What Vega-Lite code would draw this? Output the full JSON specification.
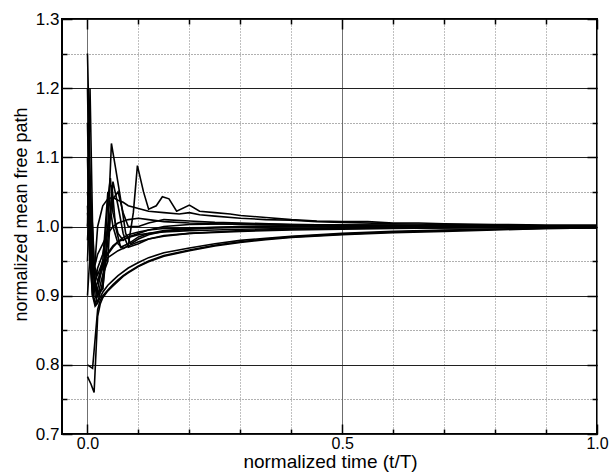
{
"$schema":"https://vega.github.io/schema/vega-lite/v6.json",
"width":535,"height":415,
"autosize":{"type":"none"},
"padding":{"left":62,"top":19,"right":13,"bottom":38},
"config":{"view":{"stroke":"black","strokeWidth":2},
"axis":{"labelFont":"Liberation Sans","titleFont":"Liberation Sans","titleFontWeight":"normal","labelColor":"black","titleColor":"black","domain":false,"tickColor":"black","tickWidth":1.5,"labelFlush":false,"labelOverlap":false,"labelBound":false}},
"data":{"values":[
{"s":"a","t":0,"v":1.25},{"s":"a","t":0.004,"v":1.12},{"s":"a","t":0.008,"v":0.98},{"s":"a","t":0.012,"v":0.9},{"s":"a","t":0.016,"v":0.885},{"s":"a","t":0.02,"v":0.91},{"s":"a","t":0.03,"v":0.945},{"s":"a","t":0.04,"v":0.962},{"s":"a","t":0.05,"v":0.972},{"s":"a","t":0.06,"v":0.978},{"s":"a","t":0.08,"v":0.984},{"s":"a","t":0.1,"v":0.988},{"s":"a","t":0.12,"v":0.99},{"s":"a","t":0.15,"v":0.992},{"s":"a","t":0.2,"v":0.994},{"s":"a","t":0.25,"v":0.995},{"s":"a","t":0.3,"v":0.996},{"s":"a","t":0.4,"v":0.997},{"s":"a","t":0.5,"v":0.998},{"s":"a","t":0.6,"v":0.998},{"s":"a","t":0.7,"v":0.999},{"s":"a","t":0.8,"v":0.999},{"s":"a","t":0.9,"v":1.0},{"s":"a","t":1.0,"v":1.0},
{"s":"b","t":0,"v":0.8},{"s":"b","t":0.01,"v":0.795},{"s":"b","t":0.02,"v":0.88},{"s":"b","t":0.025,"v":0.893},{"s":"b","t":0.03,"v":0.9},{"s":"b","t":0.04,"v":0.908},{"s":"b","t":0.05,"v":0.916},{"s":"b","t":0.06,"v":0.923},{"s":"b","t":0.07,"v":0.929},{"s":"b","t":0.08,"v":0.934},{"s":"b","t":0.1,"v":0.943},{"s":"b","t":0.12,"v":0.95},{"s":"b","t":0.15,"v":0.958},{"s":"b","t":0.2,"v":0.966},{"s":"b","t":0.25,"v":0.973},{"s":"b","t":0.3,"v":0.978},{"s":"b","t":0.35,"v":0.982},{"s":"b","t":0.4,"v":0.985},{"s":"b","t":0.5,"v":0.989},{"s":"b","t":0.6,"v":0.992},{"s":"b","t":0.7,"v":0.994},{"s":"b","t":0.8,"v":0.996},{"s":"b","t":0.9,"v":0.997},{"s":"b","t":1.0,"v":0.998},
{"s":"c","t":0,"v":0.783},{"s":"c","t":0.007,"v":0.772},{"s":"c","t":0.013,"v":0.76},{"s":"c","t":0.02,"v":0.87},{"s":"c","t":0.025,"v":0.888},{"s":"c","t":0.03,"v":0.897},{"s":"c","t":0.04,"v":0.907},{"s":"c","t":0.05,"v":0.914},{"s":"c","t":0.06,"v":0.921},{"s":"c","t":0.07,"v":0.928},{"s":"c","t":0.08,"v":0.933},{"s":"c","t":0.1,"v":0.942},{"s":"c","t":0.12,"v":0.949},{"s":"c","t":0.15,"v":0.957},{"s":"c","t":0.2,"v":0.965},{"s":"c","t":0.25,"v":0.972},{"s":"c","t":0.3,"v":0.977},{"s":"c","t":0.35,"v":0.981},{"s":"c","t":0.4,"v":0.984},{"s":"c","t":0.5,"v":0.988},{"s":"c","t":0.6,"v":0.991},{"s":"c","t":0.7,"v":0.993},{"s":"c","t":0.8,"v":0.995},{"s":"c","t":0.9,"v":0.997},{"s":"c","t":1.0,"v":0.998},
{"s":"d","t":0,"v":0.9},{"s":"d","t":0.005,"v":0.96},{"s":"d","t":0.01,"v":0.9},{"s":"d","t":0.015,"v":0.885},{"s":"d","t":0.02,"v":0.89},{"s":"d","t":0.03,"v":0.905},{"s":"d","t":0.04,"v":0.915},{"s":"d","t":0.05,"v":0.922},{"s":"d","t":0.06,"v":0.929},{"s":"d","t":0.08,"v":0.94},{"s":"d","t":0.1,"v":0.948},{"s":"d","t":0.12,"v":0.955},{"s":"d","t":0.15,"v":0.962},{"s":"d","t":0.2,"v":0.969},{"s":"d","t":0.25,"v":0.975},{"s":"d","t":0.3,"v":0.98},{"s":"d","t":0.35,"v":0.983},{"s":"d","t":0.4,"v":0.986},{"s":"d","t":0.5,"v":0.99},{"s":"d","t":0.6,"v":0.993},{"s":"d","t":0.7,"v":0.995},{"s":"d","t":0.8,"v":0.996},{"s":"d","t":0.9,"v":0.998},{"s":"d","t":1.0,"v":0.999},
{"s":"e","t":0,"v":1.0},{"s":"e","t":0.006,"v":1.05},{"s":"e","t":0.012,"v":0.93},{"s":"e","t":0.02,"v":0.905},{"s":"e","t":0.03,"v":0.91},{"s":"e","t":0.04,"v":1.0},{"s":"e","t":0.047,"v":1.12},{"s":"e","t":0.055,"v":1.085},{"s":"e","t":0.065,"v":1.04},{"s":"e","t":0.075,"v":0.99},{"s":"e","t":0.085,"v":0.975},{"s":"e","t":0.1,"v":0.982},{"s":"e","t":0.12,"v":0.988},{"s":"e","t":0.15,"v":0.993},{"s":"e","t":0.2,"v":0.996},{"s":"e","t":0.25,"v":0.998},{"s":"e","t":0.3,"v":0.999},{"s":"e","t":0.4,"v":1.0},{"s":"e","t":0.5,"v":1.001},{"s":"e","t":0.6,"v":1.0},{"s":"e","t":0.7,"v":1.001},{"s":"e","t":0.8,"v":1.0},{"s":"e","t":0.9,"v":1.0},{"s":"e","t":1.0,"v":1.001},
{"s":"f","t":0,"v":1.2},{"s":"f","t":0.005,"v":1.0},{"s":"f","t":0.01,"v":0.9},{"s":"f","t":0.02,"v":0.92},{"s":"f","t":0.03,"v":0.95},{"s":"f","t":0.04,"v":1.05},{"s":"f","t":0.05,"v":1.0},{"s":"f","t":0.06,"v":0.975},{"s":"f","t":0.07,"v":0.968},{"s":"f","t":0.08,"v":0.972},{"s":"f","t":0.09,"v":1.02},{"s":"f","t":0.098,"v":1.088},{"s":"f","t":0.11,"v":1.05},{"s":"f","t":0.12,"v":1.025},{"s":"f","t":0.135,"v":1.03},{"s":"f","t":0.147,"v":1.043},{"s":"f","t":0.16,"v":1.04},{"s":"f","t":0.175,"v":1.022},{"s":"f","t":0.2,"v":1.031},{"s":"f","t":0.22,"v":1.022},{"s":"f","t":0.25,"v":1.02},{"s":"f","t":0.28,"v":1.018},{"s":"f","t":0.3,"v":1.016},{"s":"f","t":0.35,"v":1.013},{"s":"f","t":0.4,"v":1.01},{"s":"f","t":0.45,"v":1.008},{"s":"f","t":0.5,"v":1.007},{"s":"f","t":0.55,"v":1.007},{"s":"f","t":0.6,"v":1.005},{"s":"f","t":0.65,"v":1.005},{"s":"f","t":0.7,"v":1.004},{"s":"f","t":0.8,"v":1.003},{"s":"f","t":0.9,"v":1.002},{"s":"f","t":1.0,"v":1.002},
{"s":"g","t":0,"v":1.03},{"s":"g","t":0.005,"v":0.95},{"s":"g","t":0.01,"v":0.92},{"s":"g","t":0.015,"v":0.95},{"s":"g","t":0.02,"v":1.0},{"s":"g","t":0.03,"v":1.03},{"s":"g","t":0.04,"v":1.04},{"s":"g","t":0.05,"v":1.042},{"s":"g","t":0.06,"v":1.038},{"s":"g","t":0.07,"v":1.035},{"s":"g","t":0.08,"v":1.03},{"s":"g","t":0.1,"v":1.026},{"s":"g","t":0.12,"v":1.022},{"s":"g","t":0.15,"v":1.02},{"s":"g","t":0.18,"v":1.018},{"s":"g","t":0.2,"v":1.02},{"s":"g","t":0.22,"v":1.017},{"s":"g","t":0.25,"v":1.015},{"s":"g","t":0.3,"v":1.012},{"s":"g","t":0.35,"v":1.01},{"s":"g","t":0.4,"v":1.009},{"s":"g","t":0.45,"v":1.007},{"s":"g","t":0.5,"v":1.006},{"s":"g","t":0.6,"v":1.004},{"s":"g","t":0.7,"v":1.003},{"s":"g","t":0.8,"v":1.002},{"s":"g","t":0.9,"v":1.001},{"s":"g","t":1.0,"v":1.001},
{"s":"h","t":0,"v":1.05},{"s":"h","t":0.005,"v":1.0},{"s":"h","t":0.01,"v":0.92},{"s":"h","t":0.02,"v":0.9},{"s":"h","t":0.03,"v":0.93},{"s":"h","t":0.04,"v":0.95},{"s":"h","t":0.048,"v":1.06},{"s":"h","t":0.055,"v":1.0},{"s":"h","t":0.065,"v":0.97},{"s":"h","t":0.08,"v":0.975},{"s":"h","t":0.1,"v":0.985},{"s":"h","t":0.12,"v":0.99},{"s":"h","t":0.15,"v":0.994},{"s":"h","t":0.2,"v":0.997},{"s":"h","t":0.25,"v":0.999},{"s":"h","t":0.3,"v":1.0},{"s":"h","t":0.4,"v":1.001},{"s":"h","t":0.5,"v":1.0},{"s":"h","t":0.6,"v":1.001},{"s":"h","t":0.7,"v":1.0},{"s":"h","t":0.8,"v":1.0},{"s":"h","t":0.9,"v":0.999},{"s":"h","t":1.0,"v":1.0},
{"s":"i","t":0,"v":0.95},{"s":"i","t":0.005,"v":1.05},{"s":"i","t":0.01,"v":1.0},{"s":"i","t":0.015,"v":0.92},{"s":"i","t":0.02,"v":0.9},{"s":"i","t":0.03,"v":0.91},{"s":"i","t":0.04,"v":0.98},{"s":"i","t":0.05,"v":1.065},{"s":"i","t":0.06,"v":1.03},{"s":"i","t":0.07,"v":0.99},{"s":"i","t":0.08,"v":0.97},{"s":"i","t":0.1,"v":0.975},{"s":"i","t":0.12,"v":0.982},{"s":"i","t":0.15,"v":0.987},{"s":"i","t":0.2,"v":0.99},{"s":"i","t":0.25,"v":0.992},{"s":"i","t":0.3,"v":0.994},{"s":"i","t":0.4,"v":0.996},{"s":"i","t":0.5,"v":0.997},{"s":"i","t":0.6,"v":0.998},{"s":"i","t":0.7,"v":0.998},{"s":"i","t":0.8,"v":0.999},{"s":"i","t":0.9,"v":0.999},{"s":"i","t":1.0,"v":0.999},
{"s":"j","t":0,"v":1.1},{"s":"j","t":0.005,"v":0.95},{"s":"j","t":0.01,"v":0.9},{"s":"j","t":0.02,"v":0.94},{"s":"j","t":0.03,"v":0.96},{"s":"j","t":0.04,"v":1.0},{"s":"j","t":0.05,"v":1.04},{"s":"j","t":0.06,"v":1.05},{"s":"j","t":0.07,"v":1.02},{"s":"j","t":0.08,"v":1.0},{"s":"j","t":0.1,"v":1.0},{"s":"j","t":0.12,"v":1.005},{"s":"j","t":0.15,"v":1.01},{"s":"j","t":0.2,"v":1.008},{"s":"j","t":0.25,"v":1.006},{"s":"j","t":0.3,"v":1.005},{"s":"j","t":0.4,"v":1.003},{"s":"j","t":0.5,"v":1.002},{"s":"j","t":0.6,"v":1.002},{"s":"j","t":0.7,"v":1.001},{"s":"j","t":0.8,"v":1.001},{"s":"j","t":0.9,"v":1.0},{"s":"j","t":1.0,"v":1.0},
{"s":"k","t":0,"v":1.02},{"s":"k","t":0.005,"v":0.98},{"s":"k","t":0.01,"v":0.95},{"s":"k","t":0.02,"v":0.93},{"s":"k","t":0.03,"v":0.95},{"s":"k","t":0.04,"v":0.96},{"s":"k","t":0.05,"v":0.97},{"s":"k","t":0.06,"v":0.978},{"s":"k","t":0.07,"v":0.984},{"s":"k","t":0.08,"v":0.988},{"s":"k","t":0.1,"v":0.992},{"s":"k","t":0.12,"v":0.995},{"s":"k","t":0.15,"v":0.997},{"s":"k","t":0.2,"v":0.998},{"s":"k","t":0.3,"v":0.999},{"s":"k","t":0.4,"v":1.0},{"s":"k","t":0.5,"v":1.0},{"s":"k","t":0.6,"v":1.0},{"s":"k","t":0.7,"v":1.0},{"s":"k","t":0.8,"v":1.001},{"s":"k","t":0.9,"v":1.0},{"s":"k","t":1.0,"v":1.0},
{"s":"l","t":0,"v":1.15},{"s":"l","t":0.005,"v":0.98},{"s":"l","t":0.01,"v":0.93},{"s":"l","t":0.02,"v":0.96},{"s":"l","t":0.03,"v":0.975},{"s":"l","t":0.04,"v":0.99},{"s":"l","t":0.05,"v":1.0},{"s":"l","t":0.06,"v":1.005},{"s":"l","t":0.08,"v":1.01},{"s":"l","t":0.1,"v":1.012},{"s":"l","t":0.12,"v":1.01},{"s":"l","t":0.15,"v":1.007},{"s":"l","t":0.2,"v":1.005},{"s":"l","t":0.3,"v":1.003},{"s":"l","t":0.4,"v":1.002},{"s":"l","t":0.5,"v":1.002},{"s":"l","t":0.6,"v":1.001},{"s":"l","t":0.7,"v":1.001},{"s":"l","t":0.8,"v":1.0},{"s":"l","t":0.9,"v":1.0},{"s":"l","t":1.0,"v":1.0},
{"s":"m","t":0,"v":0.98},{"s":"m","t":0.005,"v":1.05},{"s":"m","t":0.01,"v":0.95},{"s":"m","t":0.02,"v":0.92},{"s":"m","t":0.03,"v":0.94},{"s":"m","t":0.04,"v":0.955},{"s":"m","t":0.05,"v":0.96},{"s":"m","t":0.06,"v":0.965},{"s":"m","t":0.08,"v":0.972},{"s":"m","t":0.1,"v":0.978},{"s":"m","t":0.12,"v":0.982},{"s":"m","t":0.15,"v":0.986},{"s":"m","t":0.2,"v":0.99},{"s":"m","t":0.3,"v":0.993},{"s":"m","t":0.4,"v":0.995},{"s":"m","t":0.5,"v":0.996},{"s":"m","t":0.6,"v":0.997},{"s":"m","t":0.7,"v":0.998},{"s":"m","t":0.8,"v":0.998},{"s":"m","t":0.9,"v":0.999},{"s":"m","t":1.0,"v":0.999},
{"s":"n","t":0,"v":1.0},{"s":"n","t":0.005,"v":1.2},{"s":"n","t":0.01,"v":1.0},{"s":"n","t":0.015,"v":0.9},{"s":"n","t":0.02,"v":0.89},{"s":"n","t":0.03,"v":0.92},{"s":"n","t":0.04,"v":1.04},{"s":"n","t":0.045,"v":1.07},{"s":"n","t":0.05,"v":1.02},{"s":"n","t":0.06,"v":0.99},{"s":"n","t":0.07,"v":0.98},{"s":"n","t":0.08,"v":0.985},{"s":"n","t":0.1,"v":0.99},{"s":"n","t":0.12,"v":0.995},{"s":"n","t":0.15,"v":1.0},{"s":"n","t":0.2,"v":1.003},{"s":"n","t":0.3,"v":1.004},{"s":"n","t":0.4,"v":1.003},{"s":"n","t":0.5,"v":1.002},{"s":"n","t":0.6,"v":1.002},{"s":"n","t":0.7,"v":1.001},{"s":"n","t":0.8,"v":1.001},{"s":"n","t":0.9,"v":1.0},{"s":"n","t":1.0,"v":1.0}
]},
"layer":[
{"mark":{"type":"line","color":"black","strokeWidth":1.6,"clip":true},
"encoding":{
"x":{"field":"t","type":"quantitative","scale":{"domain":[-0.05,1.0],"nice":false,"zero":false},
"axis":{"orient":"bottom","title":"normalized time (t/T)","titleX":268,"titleY":33,"titleBaseline":"alphabetic","titleFontSize":19,"values":[0,0.5,1.0],
"labelFontSize":16,"format":".1f","ticks":false,"grid":true,"gridColor":"#707070","gridWidth":1,"labelPadding":1}},
"y":{"field":"v","type":"quantitative","scale":{"domain":[0.7,1.3],"nice":false,"zero":false},
"axis":{"orient":"left","title":"normalized mean free path","titleX":-36,"titleY":195,"titleBaseline":"alphabetic","titleAngle":-90,"titleFontSize":18,"values":[0.7,0.8,0.9,1.0,1.1,1.2,1.3],
"labelFontSize":17,"format":".1f","ticks":false,"grid":true,"gridColor":"#202020","gridWidth":1,"labelPadding":3}},
"detail":{"field":"s"}}},
{"mark":{"type":"line","opacity":0},
"encoding":{
"x":{"field":"t","type":"quantitative","axis":{"orient":"top","title":null,"labels":false,"grid":true,"gridColor":"#808080","gridDash":[1,2],"values":[0.1,0.2,0.3,0.4,0.6,0.7,0.8,0.9],"tickSize":-5}},
"y":{"field":"v","type":"quantitative","axis":{"orient":"right","title":null,"labels":false,"grid":true,"gridColor":"#606060","gridDash":[1,2],"values":[0.75,0.85,0.95,1.05,1.15,1.25],"tickSize":-5}},
"detail":{"field":"s"}}},
{"mark":{"type":"line","opacity":0},
"encoding":{
"x":{"field":"t","type":"quantitative","axis":{"orient":"bottom","title":null,"labels":false,"grid":false,"values":[0.1,0.2,0.3,0.4,0.6,0.7,0.8,0.9],"tickSize":-5}},
"y":{"field":"v","type":"quantitative","axis":{"orient":"left","title":null,"labels":false,"grid":false,"values":[0.75,0.85,0.95,1.05,1.15,1.25],"tickSize":-5}},
"detail":{"field":"s"}}},
{"mark":{"type":"line","opacity":0},
"encoding":{
"x":{"field":"t","type":"quantitative","axis":{"orient":"top","title":null,"labels":false,"grid":false,"values":[0,0.5,1.0],"tickSize":-10}},
"y":{"field":"v","type":"quantitative","axis":{"orient":"right","title":null,"labels":false,"grid":false,"values":[0.7,0.8,0.9,1.0,1.1,1.2,1.3],"tickSize":-10}},
"detail":{"field":"s"}}},
{"mark":{"type":"line","opacity":0},
"encoding":{
"x":{"field":"t","type":"quantitative","axis":{"orient":"bottom","title":null,"labels":false,"grid":false,"values":[0,0.5,1.0],"tickSize":-10}},
"y":{"field":"v","type":"quantitative","axis":{"orient":"left","title":null,"labels":false,"grid":false,"values":[0.7,0.8,0.9,1.0,1.1,1.2,1.3],"tickSize":-10}},
"detail":{"field":"s"}}}
],
"resolve":{"axis":{"x":"independent","y":"independent"}}
}
